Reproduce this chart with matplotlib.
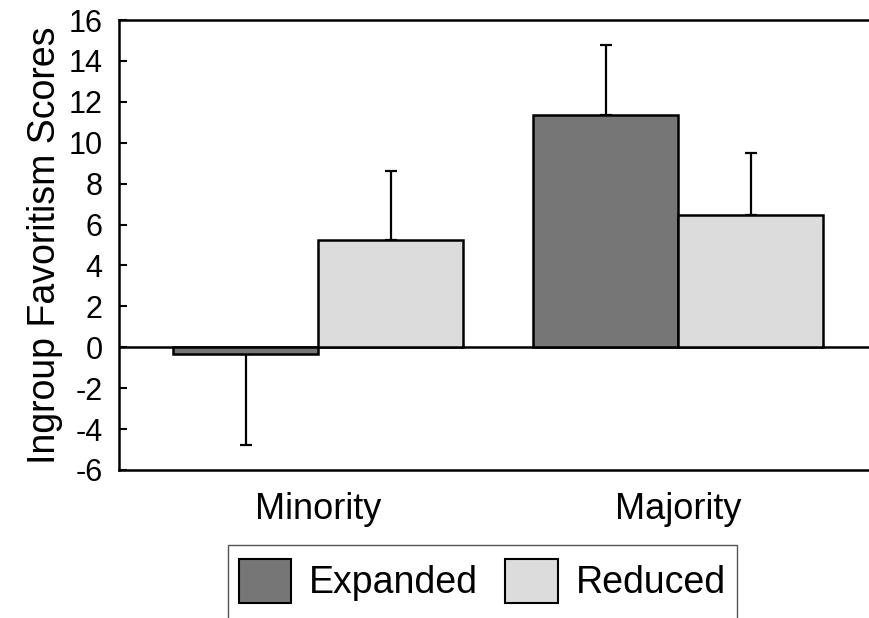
import numpy as np
import matplotlib.pyplot as plt
from matplotlib.patches import Patch, Rectangle

plt.rcParams['font.family'] = ['Liberation Sans', 'DejaVu Sans']

groups = ["Minority", "Majority"]
expanded = [-0.35, 11.35]
reduced = [5.25, 6.45]
err_expanded_low = [4.45, 0.0]
err_expanded_high = [0.0, 3.45]
err_reduced = [3.35, 3.05]
yticks = list(range(-6, 17, 2))

fig = plt.figure(figsize=(8.69, 6.18), dpi=100)
ax = fig.add_axes([0.137, 0.2395, 0.863, 0.728])

x = np.arange(len(groups))
w = 0.403
dark = "#767676"
light = "#dcdcdc"

ax.axhline(0, color="k", lw=1.8, zorder=1)
ax.bar(x - w / 2, expanded, w, color=dark, edgecolor="k", lw=1.8, zorder=3)
ax.bar(x + w / 2, reduced, w, color=light, edgecolor="k", lw=1.8, zorder=3)

# one-sided error bars
ax.errorbar(x - w / 2, expanded, yerr=[err_expanded_low, err_expanded_high],
            fmt="none", ecolor="k", elinewidth=1.6, capsize=4, capthick=1.6, zorder=2)
ax.errorbar(x + w / 2, reduced, yerr=[np.zeros(len(groups)), err_reduced],
            fmt="none", ecolor="k", elinewidth=1.6, capsize=4, capthick=1.6, zorder=2)

ax.set_xlim(-0.553, 1.53)
ax.set_ylim(-6, 16)
ax.set_yticks(yticks)
ax.set_yticklabels([str(t) for t in yticks], fontsize=22)
ax.set_xticks(x)
ax.set_xticklabels(groups, fontsize=26)
ax.tick_params(axis="y", direction="in", length=6, width=1.5, pad=12)
ax.tick_params(axis="x", length=0, pad=16)
ax.set_ylabel("Ingroup Favoritism Scores", fontsize=27, labelpad=4)

for side in ["left", "top", "bottom"]:
    ax.spines[side].set_linewidth(1.8)
ax.spines["right"].set_visible(False)

handles = [Patch(facecolor=dark, edgecolor="k", lw=1.5, label="Expanded"),
           Patch(facecolor=light, edgecolor="k", lw=1.5, label="Reduced")]
leg = fig.legend(handles=handles, loc="upper left", bbox_to_anchor=(228 / 869, 1 - 548 / 618),
                 ncol=2, fontsize=27, frameon=False,
                 handlelength=1.39, handleheight=1.4, handletextpad=0.48,
                 columnspacing=0.72, borderpad=0.3, borderaxespad=0)

# legend box runs past the bottom edge of the figure
fig.canvas.draw()
bb = leg.get_window_extent().transformed(fig.transFigure.inverted())
fig.patches.append(Rectangle((bb.x0, bb.y0 - 0.1), bb.width, bb.height + 0.1 + 3 / 618,
                             transform=fig.transFigure, fill=False,
                             edgecolor="#555555", lw=1.0))

fig.savefig("out.png", dpi=100)
